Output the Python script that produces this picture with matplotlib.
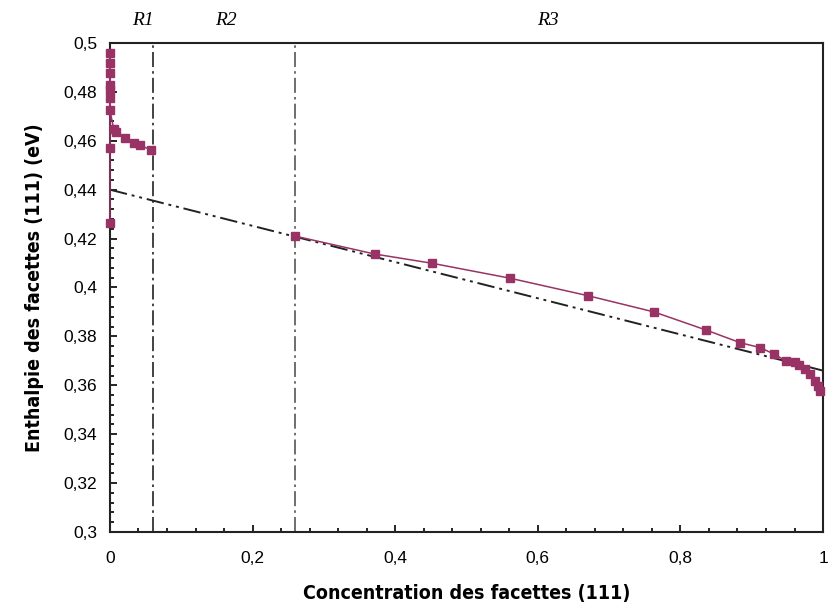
import matplotlib
matplotlib.use("Agg")
import matplotlib.pyplot as plt
from matplotlib.ticker import MultipleLocator, FuncFormatter
import numpy as np

# region R1: points along x=0 then the short tail toward x=0.06
r1_x = [0.0575, 0.042, 0.033, 0.021, 0.009, 0.005, 0.0, 0.0, 0.0, 0.0, 0.0, 0.0, 0.0, 0.0, 0.0]
r1_y = [0.4562, 0.4583, 0.459, 0.461, 0.4637, 0.465, 0.4726, 0.4774, 0.4808, 0.4828,
        0.4876, 0.4917, 0.4958, 0.457, 0.4265]

# region R3
r3_x = [0.26, 0.371, 0.452, 0.561, 0.671, 0.763, 0.836, 0.884, 0.912, 0.931, 0.948,
        0.960, 0.966, 0.975, 0.982, 0.989, 0.9925, 0.9958]
r3_y = [0.421, 0.4137, 0.4099, 0.4038, 0.3966, 0.390, 0.3826, 0.3774, 0.3754, 0.3728,
        0.370, 0.3695, 0.3683, 0.3665, 0.3646, 0.3619, 0.3597, 0.3578]

# linear fit line
fit_x = [0.0, 1.0]
fit_y = [0.44, 0.366]

# region boundaries and labels
bounds = [0.06, 0.26]
region_labels = ["R1", "R2", "R3"]
region_label_x = [0.046, 0.163, 0.614]

purple = "#993366"

fig = plt.figure(figsize=(8.3, 6.1), dpi=100)
ax = fig.add_axes([0.1325, 0.1279, 0.8591, 0.8016])

ax.plot(fit_x, fit_y, color="#222222", lw=1.4, dashes=(9, 2.5, 1.5, 2.5, 1.5, 2.5), zorder=2)
ax.axvline(bounds[0], color="#222222", lw=1.2, dashes=(9, 2.5, 1.5, 2.5), zorder=2)
ax.axvline(bounds[1], color="#555555", lw=1.2, dashes=(9, 2.5, 1.5, 2.5), zorder=2)

ax.plot(r1_x, r1_y, color=purple, lw=1.1, marker="s", ms=5.5, mec=purple, zorder=3, clip_on=False)
ax.plot(r3_x, r3_y, color=purple, lw=1.1, marker="s", ms=5.5, mec=purple, zorder=3, clip_on=False)

ax.set_xlim(0, 1)
ax.set_ylim(0.3, 0.5)

ax.xaxis.set_major_locator(MultipleLocator(0.2))
ax.xaxis.set_minor_locator(MultipleLocator(0.04))
ax.yaxis.set_major_locator(MultipleLocator(0.02))
ax.yaxis.set_minor_locator(MultipleLocator(0.004))

fmt = FuncFormatter(lambda v, p: ("%g" % round(v, 4)).replace(".", ","))
ax.xaxis.set_major_formatter(fmt)
ax.yaxis.set_major_formatter(fmt)

ax.tick_params(which="both", direction="in", top=False, right=False, width=1.2)
ax.tick_params(which="major", length=5, labelsize=12.5)
ax.tick_params(axis="y", which="major", pad=9)
ax.tick_params(axis="x", which="major", pad=14)
ax.tick_params(which="minor", length=3)
for lab in ax.get_xticklabels() + ax.get_yticklabels():
    lab.set_fontfamily(["Liberation Sans", "DejaVu Sans"])

for s in ax.spines.values():
    s.set_linewidth(1.5)
    s.set_color("#222222")

label_font = dict(family=["DejaVu Sans"], stretch="condensed",
                  weight="bold", size=14)
ax.set_xlabel("Concentration des facettes (111)", labelpad=13, **label_font)
ax.set_ylabel("Enthalpie des facettes (111) (eV)", labelpad=14, **label_font)

trans = ax.get_xaxis_transform()
for lx, txt in zip(region_label_x, region_labels):
    ax.text(lx, 1.047, txt, transform=trans, ha="center", va="center",
            family=["Liberation Serif", "DejaVu Serif"], style="italic", size=14)

fig.savefig("out.png", dpi=100)
